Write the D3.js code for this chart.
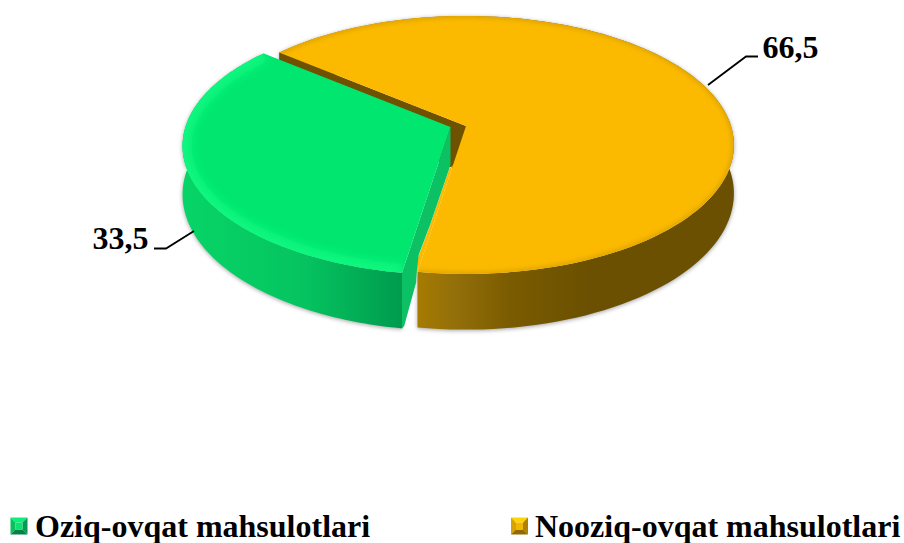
<!DOCTYPE html>
<html><head><meta charset="utf-8">
<script src="https://cdn.jsdelivr.net/npm/d3@7"></script>
<style>html,body{margin:0;padding:0;background:#fff;overflow:hidden}svg{display:block}
text{font-family:"Liberation Serif",serif;font-weight:bold;fill:#000}</style></head>
<body><svg id="c" width="904" height="543"></svg>
<script>
const categories = ["Oziq-ovqat mahsulotlari", "Nooziq-ovqat mahsulotlari"];
const values = [33.5, 66.5];
const valueLabels = ["33,5", "66,5"];

const W = 904, H = 543;
const svg = d3.select("#c");
const defs = svg.append("defs");
const rad = d => d * Math.PI / 180;

// perspective projection of the pie disc
const K = 0.147, RX = 265, RY = 126.2, DEPTH = 47.5;
const offsets = [{x: 450.5, y: 127}, {x: 466, y: 126}];
const project = (o, r, a, h) => {
  const u = r * Math.sin(a), v = r * Math.cos(a), s = 1 / (1 + K * v);
  return [o.x + RX * u * s, o.y - RY * v * s + DEPTH * h * s];
};
const line = d3.line();
const arcPts = (o, a0, a1, h) => d3.range(0, 121).map(i => project(o, 1, a0 + (a1 - a0) * i / 120, h));

const arcs = d3.pie().sort(null).startAngle(rad(189)).endAngle(rad(549))(values);

const topPath = (o, d) => line([project(o, 0, 0, 0), ...arcPts(o, d.startAngle, d.endAngle, 0)]) + "Z";
const wallPath = (o, a0, a1) => line([...arcPts(o, a0, a1, 0), ...arcPts(o, a1, a0, 1)]) + "Z";
const facePath = (o, a) => line([project(o, 0, a, 0), project(o, 1, a, 0), project(o, 1, a, 1), project(o, 0, a, 1)]) + "Z";
// outline of the green slice's bevelled cut face, from rim to centre: [radius, depth]
const faceProfile = [[1, 1], [0.96, 1.08], [0.74, 0.98], [0.725, 0.785], [0.69, 0.615], [0.46, 0.72], [0, 0.8]];
const bevelFacePath = (o, a) => line([project(o, 0, a, 0), project(o, 1, a, 0),
  ...faceProfile.map(p => project(o, p[0], a, p[1]))]) + "Z";

// gradients
const grad = (id, x1, x2, stops) => {
  const g = defs.append("linearGradient").attr("id", id).attr("gradientUnits", "userSpaceOnUse")
    .attr("x1", x1).attr("x2", x2).attr("y1", 0).attr("y2", 0);
  stops.forEach(s => g.append("stop").attr("offset", s[0]).attr("stop-color", s[1]));
};
grad("wall0", 185, 400, [[0, "#07d466"], [0.55, "#05c460"], [1, "#009c4e"]]);
grad("wall1", 415, 733, [[0, "#a87c00"], [0.12, "#94700a"], [0.3, "#7a5b00"], [0.55, "#6a5000"], [1, "#6a5000"]]);
const blur = (id, s) => defs.append("filter").attr("id", id)
  .attr("x", "-10%").attr("y", "-10%").attr("width", "120%").attr("height", "120%")
  .append("feGaussianBlur").attr("stdDeviation", s);
blur("b2", 2); blur("b5", 5);

const colors = [
  {top: "#00e66e", rim: "#0af77f", rimW: 18, rimB: "url(#b5)", rimO: 1, face: "#0cc064", wall: "url(#wall0)"},
  {top: "#fbba00", rim: "#c99200", rimW: 4, rimB: "url(#b2)", rimO: 0.6, face: "#6e5200", wall: "url(#wall1)"}
];

// soft shadow under the walls
[1, 0].forEach(i => {
  const d = arcs[i], o = offsets[i];
  svg.append("path").attr("d", wallPath(o, d.startAngle, d.endAngle))
    .attr("transform", "translate(0,1)")
    .attr("fill", "#555").attr("opacity", 0.55).attr("filter", "url(#b2)");
});

const drawTop = (i) => {
  const d = arcs[i], o = offsets[i], c = colors[i];
  const id = "clip" + i;
  defs.append("clipPath").attr("id", id).append("path").attr("d", topPath(o, d));
  svg.append("path").attr("d", topPath(o, d)).attr("fill", c.top);
  const g = svg.append("g").attr("clip-path", `url(#${id})`);
  const rim = line(arcPts(o, d.startAngle, d.endAngle, 0));
  g.append("path").attr("d", rim).attr("fill", "none").attr("stroke", c.rim).attr("opacity", c.rimO)
    .attr("stroke-width", c.rimW).attr("filter", c.rimB);
};

// orange slice: the cut face sits behind the top, so the top trims it
svg.append("path").attr("d", wallPath(offsets[1], arcs[1].startAngle, arcs[1].endAngle)).attr("fill", colors[1].wall);
svg.append("path").attr("d", facePath(offsets[1], arcs[1].startAngle)).attr("fill", colors[1].face);
drawTop(1);
// orange top runs right up against the green cut face
const ga = arcs[0].startAngle;
svg.append("path").attr("d", line([
  project(offsets[1], 1, ga, 0),
  ...faceProfile.slice(3, 7).map(p => project(offsets[0], p[0] + 0.03, ga, p[1])),
  project(offsets[1], 0.3, ga, 0)
]) + "Z").attr("fill", colors[1].top);
// green slice
svg.append("path").attr("d", wallPath(offsets[0], arcs[0].startAngle, arcs[0].endAngle)).attr("fill", colors[0].wall);
svg.append("path").attr("d", bevelFacePath(offsets[0], arcs[0].startAngle)).attr("fill", colors[0].face);
drawTop(0);

// value labels and leaders
const labelLayout = [
  {x: 92.5, y: 249, leader: [[194, 231], [166, 248.5], [154, 248.5]]},
  {x: 762.5, y: 57.5, leader: [[708, 85], [746, 56.5], [758, 56.5]]}
];
labelLayout.forEach((l, i) => {
  svg.append("path").attr("d", line(l.leader)).attr("fill", "none").attr("stroke", "#000").attr("stroke-width", 1.8);
  svg.append("text").attr("x", l.x).attr("y", l.y).attr("font-size", 32).text(valueLabels[i]);
});

// legend
const legendLayout = [{x: 10.5, tx: 35}, {x: 511, tx: 535}];
const swatch = [
  {t: "#0cf07a", l: "#0bbf60", r: "#079a55", b: "#058048", c: "#0fe070"},
  {t: "#ffd400", l: "#d8a200", r: "#b08000", b: "#8f6a00", c: "#f0b800"}
];
const S = 17, B = 5;
categories.forEach((name, i) => {
  const x = legendLayout[i].x, y = 517.5, s = swatch[i];
  const g = svg.append("g").attr("transform", `translate(${x},${y})`);
  const tri = (pts, f) => g.append("path").attr("d", line(pts) + "Z").attr("fill", f);
  tri([[0, 0], [S, 0], [S - B, B], [B, B]], s.t);
  tri([[0, 0], [B, B], [B, S - B], [0, S]], s.l);
  tri([[S, 0], [S, S], [S - B, S - B], [S - B, B]], s.r);
  tri([[0, S], [B, S - B], [S - B, S - B], [S, S]], s.b);
  tri([[B, B], [S - B, B], [S - B, S - B], [B, S - B]], s.c);
  svg.append("text").attr("x", legendLayout[i].tx).attr("y", 537).attr("font-size", 32).text(name);
});
</script></body></html>
